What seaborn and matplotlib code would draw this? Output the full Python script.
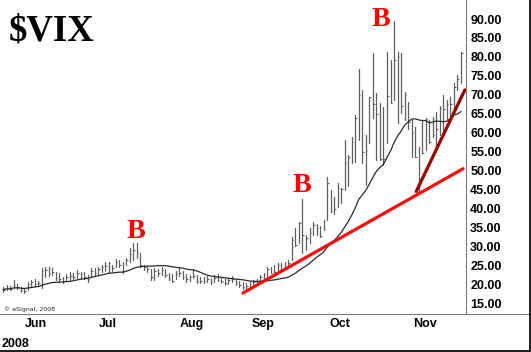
import numpy as np
import pandas as pd
import matplotlib
matplotlib.use("Agg")
import matplotlib.pyplot as plt
import seaborn as sns
from matplotlib.lines import Line2D

# ---------------- data ----------------
start_date = "2008-05-19"
end_date = "2008-11-20"
holidays = ["2008-05-26", "2008-07-04", "2008-09-01"]

highs = [19.3, 19.8, 19.5, 21.1, 20.2, 19.4, 19.0, 20.7, 21.1, 21.4,
         21.0, 24.2, 24.6, 24.6, 24.2, 23.3, 22.9, 22.0, 22.6, 23.3,
         23.0, 23.8, 23.3, 23.2, 22.5, 24.2, 24.3, 24.6, 25.1, 26.0,
         26.0, 25.0, 26.8, 26.5, 26.0, 27.0, 29.5, 30.8, 31.0, 28.2,
         25.1, 24.6, 24.0, 24.2, 24.0, 24.6, 24.0, 23.0, 22.6, 23.5,
         24.6, 23.5, 22.8, 22.5, 24.0, 22.4, 22.0, 21.8, 22.2, 21.6,
         22.5, 22.8, 22.0, 21.3, 21.6, 22.2, 21.4, 21.0, 20.6, 20.4,
         20.6, 21.1, 21.4, 22.5, 22.9, 24.6, 24.6, 25.1, 25.5, 25.5,
         26.0, 26.3, 32.6, 34.8, 36.5, 42.4, 33.0, 34.8, 36.5, 36.0,
         35.5, 37.0, 48.4, 44.9, 43.0, 46.7, 45.4, 58.0, 54.0, 58.9,
         64.7, 76.8, 71.3, 59.4, 69.4, 81.1, 70.5, 67.8, 66.8, 81.3,
         79.2, 89.5, 81.3, 81.0, 70.8, 68.0, 63.4, 61.6, 56.3, 63.4,
         63.9, 63.4, 64.2, 65.5, 67.0, 69.9, 68.6, 69.5, 73.1, 75.2,
         81.4]
lows = [18.0, 18.5, 18.4, 19.0, 18.8, 18.0, 17.7, 18.5, 19.2, 19.6,
        19.5, 19.0, 22.0, 22.2, 22.5, 21.1, 20.7, 20.3, 20.8, 21.1,
        21.3, 21.6, 21.6, 21.5, 20.7, 22.0, 22.4, 22.8, 23.3, 23.5,
        23.3, 23.6, 24.6, 24.6, 22.9, 25.0, 26.0, 26.4, 27.0, 24.6,
        23.8, 23.3, 21.1, 21.1, 22.2, 22.5, 22.0, 21.1, 20.5, 21.3,
        22.3, 21.5, 20.5, 20.8, 21.6, 20.4, 20.3, 20.3, 20.7, 20.2,
        20.5, 21.0, 20.3, 19.8, 20.0, 20.6, 19.7, 19.4, 18.7, 18.8,
        19.0, 19.4, 20.0, 20.7, 21.2, 21.1, 22.9, 22.9, 23.3, 23.5,
        24.3, 24.6, 26.4, 30.0, 30.9, 28.2, 29.0, 30.9, 33.0, 33.1,
        32.6, 34.3, 37.0, 39.2, 38.5, 40.5, 41.5, 44.9, 46.0, 52.0,
        52.3, 58.0, 52.0, 46.2, 57.3, 64.0, 52.8, 52.8, 51.5, 57.3,
        67.8, 68.6, 62.6, 65.2, 63.4, 61.0, 53.7, 53.7, 44.1, 54.6,
        55.4, 57.3, 58.9, 56.3, 59.4, 60.7, 63.4, 64.2, 65.0, 71.3,
        73.0]
closes = [18.6, 19.0, 18.8, 19.8, 19.2, 18.6, 18.2, 20.0, 20.5, 20.2,
          20.4, 23.5, 23.8, 23.0, 23.2, 21.8, 21.5, 21.0, 22.0, 22.3,
          22.0, 23.0, 22.8, 22.0, 21.5, 23.5, 23.0, 24.0, 24.5, 24.8,
          25.5, 24.4, 26.0, 25.2, 23.5, 26.5, 28.0, 29.0, 28.5, 25.0,
          24.5, 24.0, 22.0, 23.5, 23.0, 23.8, 22.5, 21.6, 21.0, 22.8,
          23.0, 22.0, 21.3, 21.8, 22.3, 21.0, 20.8, 21.0, 21.4, 20.6,
          21.6, 21.2, 20.8, 20.4, 21.1, 21.5, 20.4, 19.8, 19.2, 19.6,
          19.6, 20.6, 20.7, 22.0, 22.4, 24.0, 23.1, 23.2, 25.0, 24.1,
          24.4, 25.7, 31.7, 30.3, 36.2, 33.1, 32.1, 33.6, 35.7, 34.9,
          32.8, 34.7, 46.7, 39.4, 39.8, 45.3, 45.1, 52.1, 53.7, 57.5,
          63.9, 70.0, 55.0, 55.1, 69.3, 67.6, 65.0, 53.0, 53.1, 69.7,
          67.8, 79.1, 80.0, 67.0, 70.0, 62.9, 59.9, 53.7, 47.7, 54.6,
          63.7, 57.5, 59.5, 61.0, 66.5, 66.3, 67.6, 67.6, 72.0, 74.3,
          80.9]

month_labels = ["Jun", "Jul", "Aug", "Sep", "Oct", "Nov"]
year_label = "2008"
y_ticks = [15, 20, 25, 30, 35, 40, 45, 50, 55, 60, 65, 70, 75, 80, 85, 90]

# trend lines (bar index, value)
trend_up_x = [68.1, 130.6]
trend_up_y = [17.7, 50.5]
trend_steep_x = [117.3, 131.1]
trend_steep_y = [44.5, 71.3]

# "B" marks (bar index, value at letter baseline)
b_x = [37.8, 84.9, 107.4]
b_y = [32.1, 44.4, 88.15]

# ---------------- build frame ----------------
dates = pd.bdate_range(start_date, end_date)
dates = dates[~dates.isin(pd.to_datetime(holidays))]
n = len(highs)
idx = np.arange(n)
df = pd.DataFrame({"idx": idx, "high": highs, "low": lows, "close": closes})
df["ma"] = df["close"].rolling(20, min_periods=1).mean()
long_df = pd.concat([
    pd.DataFrame({"idx": idx, "val": highs, "bar": idx}),
    pd.DataFrame({"idx": idx, "val": lows, "bar": idx}),
])

# ---------------- layout ----------------
W, H = 531, 352
sns.set_theme(style="white")
plt.rcParams["font.family"] = ["Liberation Sans", "DejaVu Sans"]

fig = plt.figure(figsize=(W / 100, H / 100), dpi=100)
fig.patch.set_facecolor("white")
ax = fig.add_axes([0, 39 / H, 466 / W, 313 / H])
ax.set_facecolor("white")

px_per_bar = 3.523
x0_px = 3.0
ax.set_xlim((0 - x0_px) / px_per_bar, (466 - x0_px) / px_per_bar)
px_per_unit = 3.79
ax.set_ylim(90 - (313 - 19) / px_per_unit, 90 + 19 / px_per_unit)

# price bars
sns.lineplot(data=long_df, x="idx", y="val", units="bar", estimator=None,
             color="#5f5f5f", linewidth=0.9, ax=ax, legend=False)
ax.hlines(df["close"], df["idx"], df["idx"] + 0.45, color="#5f5f5f", linewidth=0.8)

# moving average
sns.lineplot(data=df, x="idx", y="ma", color="#2a2a2a", linewidth=0.9, ax=ax)

# trend lines
sns.lineplot(x=trend_up_x, y=trend_up_y, color="#ff0a0a", linewidth=2.3, ax=ax)
sns.lineplot(x=trend_steep_x, y=trend_steep_y, color="#990000", linewidth=2.3, ax=ax)

for bx, by in zip(b_x, b_y):
    ax.text(bx, by, "B", color="#ff0000", fontsize=20.3, fontweight="bold",
            family="Liberation Serif", ha="center", va="baseline")

# axes styling
for s in ["top", "left", "bottom"]:
    ax.spines[s].set_visible(False)
ax.spines["right"].set_color("#7a7a7a")
ax.spines["right"].set_linewidth(0.8)
ax.yaxis.tick_right()
ax.set_yticks(y_ticks)
ax.set_yticklabels([f"{v:.2f}" for v in y_ticks])
ax.tick_params(axis="y", length=0, pad=3.0, labelsize=9, labelcolor="black")
label_px = [36, 108, 191.5, 263, 340, 425]
ax.set_xticks([(p - x0_px) / px_per_bar for p in label_px])
ax.set_xticklabels(month_labels)
ax.tick_params(axis="x", length=0, pad=3.6, labelsize=9, labelcolor="black")
for t in ax.get_xticklabels() + ax.get_yticklabels():
    t.set_fontweight("bold")
ax.set_xlabel("")
ax.set_ylabel("")
ax.grid(False)

# figure decorations
fig.add_artist(Line2D([0, 529 / W], [1 - 313.5 / H] * 2, color="#7a7a7a", lw=0.8))
fig.add_artist(Line2D([529.5 / W] * 2, [1 - 350.5 / H, 1.0], color="#1e1e1e", lw=1.4))
fig.add_artist(Line2D([0, 530 / W], [1 - 350.5 / H] * 2, color="#1e1e1e", lw=1.4))

fig.text(9 / W, 1 - 40.7 / H, "$VIX", family="Liberation Serif", fontweight="bold",
         fontsize=26.5, color="black", va="baseline", ha="left")
fig.text(2 / W, 1 - 347 / H, year_label, fontweight="bold", fontsize=9,
         color="black", va="baseline", ha="left")
fig.text(4 / W, 1 - 311 / H, "\u00a9 eSignal, 2008", fontsize=4.5,
         family="DejaVu Sans", color="#222222", va="baseline", ha="left")

fig.savefig("out.png", dpi=100)
